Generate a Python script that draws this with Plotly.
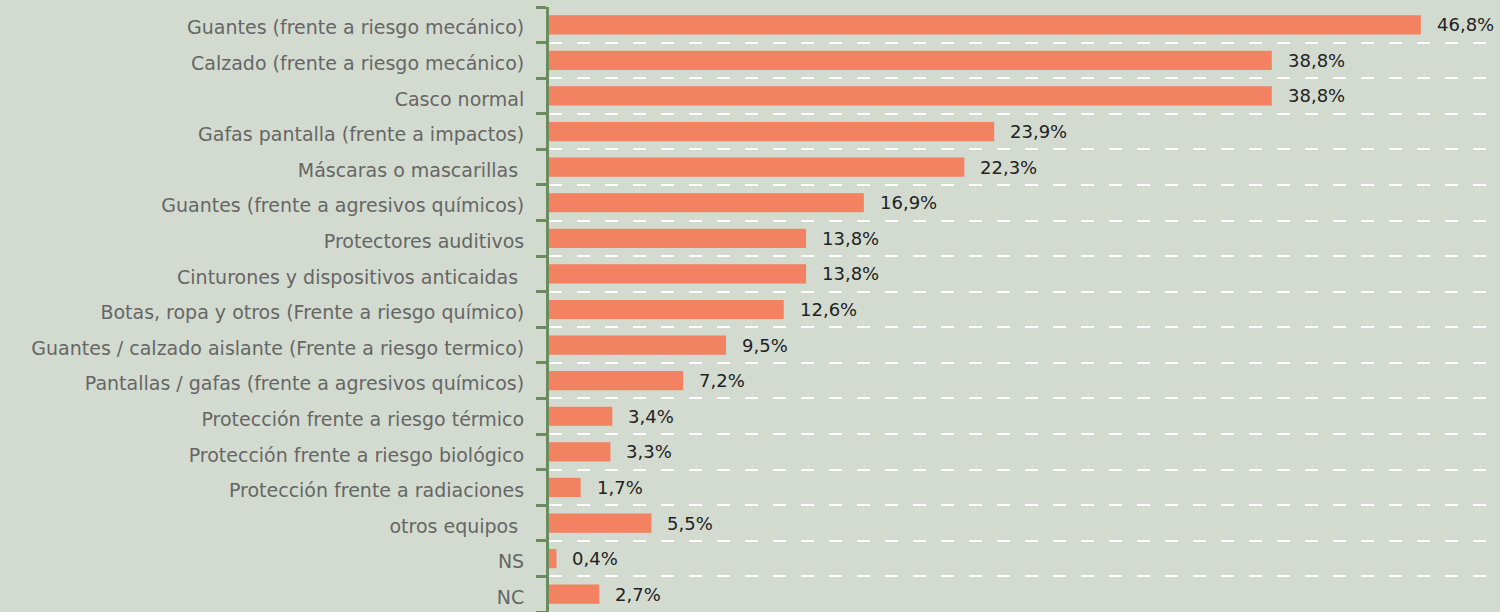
import plotly.graph_objects as go

categories = [
    "Guantes (frente a riesgo mecánico)",
    "Calzado (frente a riesgo mecánico)",
    "Casco normal",
    "Gafas pantalla (frente a impactos)",
    "Máscaras o mascarillas ",
    "Guantes (frente a agresivos químicos)",
    "Protectores auditivos",
    "Cinturones y dispositivos anticaidas ",
    "Botas, ropa y otros (Frente a riesgo químico)",
    "Guantes / calzado aislante (Frente a riesgo termico)",
    "Pantallas / gafas (frente a agresivos químicos)",
    "Protección frente a riesgo térmico",
    "Protección frente a riesgo biológico",
    "Protección frente a radiaciones",
    "otros equipos ",
    "NS",
    "NC",
]
values = [46.8, 38.8, 38.8, 23.9, 22.3, 16.9, 13.8, 13.8, 12.6, 9.5, 7.2, 3.4, 3.3, 1.7, 5.5, 0.4, 2.7]

BG = "#d3dbd0"
BAR = "#f28262"
AXIS = "#6a8c5e"
FONT = "DejaVu Sans, Verdana, sans-serif"

n = len(categories)
idx = list(range(n))
labels = [f"{v:.1f}".replace(".", ",") + "%" for v in values]

fig = go.Figure()
fig.add_trace(go.Bar(
    x=values, y=idx, orientation="h",
    marker=dict(color=BAR, line=dict(width=0)),
    width=0.54, hoverinfo="skip",
))
# invisible trace to activate yaxis2 (boundary ticks + dashed grid)
fig.add_trace(go.Scatter(x=[0], y=[0], yaxis="y2", mode="markers",
                         marker=dict(opacity=0), showlegend=False, hoverinfo="skip"))

for i, (v, t) in enumerate(zip(values, labels)):
    fig.add_annotation(x=v, y=i, text=t, showarrow=False, xanchor="left",
                       yanchor="middle", xshift=14,
                       font=dict(family=FONT, size=18, color="#222222"))

boundaries = [i - 0.5 for i in range(n + 1)]
yrange = [n - 0.5, -0.5]

fig.update_layout(
    width=1500, height=612,
    margin=dict(l=549, r=0, t=7, b=0),
    paper_bgcolor=BG, plot_bgcolor=BG,
    showlegend=False,
    font=dict(family=FONT, size=19, color="#666666"),
    xaxis=dict(range=[0, 51.05], showgrid=False, zeroline=False,
               showticklabels=False, showline=False, fixedrange=True),
    yaxis=dict(range=yrange, tickmode="array", tickvals=idx, ticktext=categories,
               showgrid=False, zeroline=False, showline=False,
               ticks="outside", ticklen=20, tickcolor="rgba(0,0,0,0)",
               ticklabelshift=-3,
               tickfont=dict(family=FONT, size=19, color="#666666")),
    yaxis2=dict(range=yrange, overlaying="y", side="left", tickmode="array",
                tickvals=boundaries, showticklabels=False,
                showgrid=True, gridcolor="#ffffff", gridwidth=1.5,
                griddash="13px,15px",
                ticks="outside", ticklen=10, tickwidth=3, tickcolor=AXIS,
                showline=True, linecolor=AXIS, linewidth=3, zeroline=False),
)

fig.write_html("out.html",
               config={"displayModeBar": False},
               post_script="document.body.style.margin='0';document.body.style.background='%s';" % BG)
